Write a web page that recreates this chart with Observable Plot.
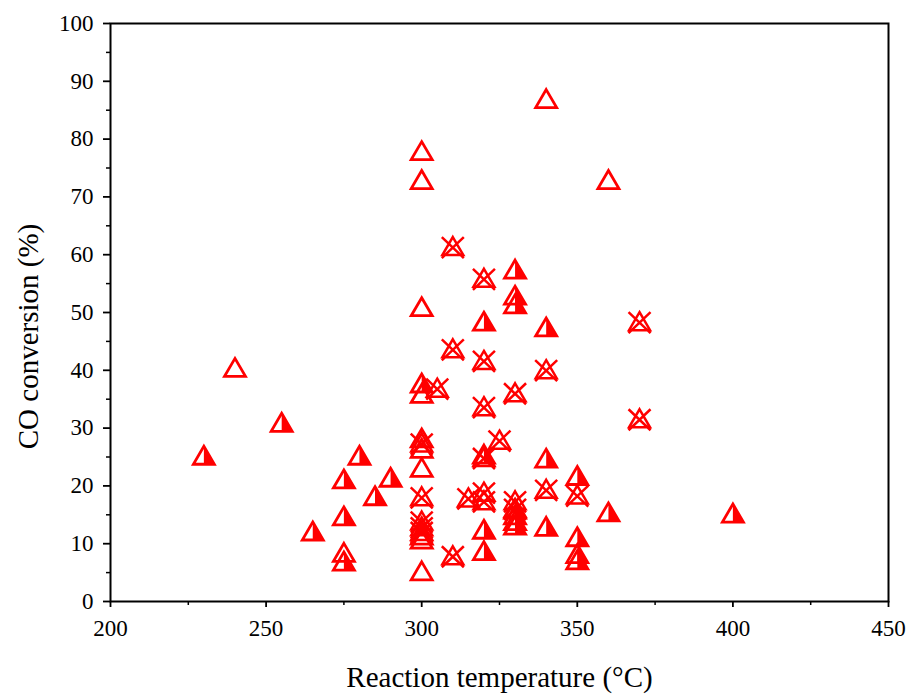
<!DOCTYPE html>
<html><head><meta charset="utf-8">
<script src="https://cdn.jsdelivr.net/npm/d3@7"></script>
<script src="https://cdn.jsdelivr.net/npm/@observablehq/plot@0.6"></script>
<style>body{margin:0;background:#fff}</style>
</head><body><div id="chart"></div>
<script>
// Open triangles
const openTemp = [240, 300, 300, 300, 340, 360, 300, 300, 300, 300, 300, 300, 300, 275];
const openConv = [40.5, 78, 73, 51, 87, 73, 36, 28.3, 26.5, 23.2, 11.5, 10.8, 5.3, 8.5];
// Half-filled triangles
const halfTemp = [230, 255, 265, 275, 275, 275, 280, 285, 290, 300, 320, 320, 320, 320, 330, 330, 330, 330, 330, 330, 330, 340, 340, 340, 350, 350, 350, 350, 360, 400];
const halfConv = [25.3, 31, 12.2, 21.2, 14.8, 7, 25.3, 18.3, 21.5, 37.8, 48.5, 25.5, 12.5, 8.8, 57.5, 53, 51.5, 16, 15, 14, 13.2, 47.5, 24.8, 13, 21.8, 11.2, 8.3, 7.2, 15.5, 15.3];
// Crossed triangles
const crossTemp = [305, 310, 310, 310, 315, 320, 320, 320, 320, 320, 320, 325, 330, 330, 330, 340, 340, 350, 370, 370, 300, 300, 300, 300, 300];
const crossConv = [37, 61.5, 43.8, 8, 18, 56, 41.8, 33.8, 25, 19, 17.5, 28, 36.2, 17.5, 16.2, 40.2, 19.5, 18.5, 48.5, 31.7, 27.5, 18.2, 14, 13, 12.2];

const xMajor = [200, 250, 300, 350, 400, 450];
const xMinor = [225, 275, 325, 375, 425];
const yMajor = [0, 10, 20, 30, 40, 50, 60, 70, 80, 90, 100];
const yMinor = [5, 15, 25, 35, 45, 55, 65, 75, 85, 95];

const toRows = (xs, ys) => xs.map((x, i) => ({x, y: ys[i]}));
const openData = toRows(openTemp, openConv);
const halfData = toRows(halfTemp, halfConv);
const crossData = toRows(crossTemp, crossConv);

const H = 9, W = 10.5;
const triSym = {draw(c) { c.moveTo(0, -H); c.lineTo(W, H); c.lineTo(-W, H); c.closePath(); }};
const halfSym = {draw(c) { c.moveTo(0, -H); c.lineTo(W, H); c.lineTo(0, H); c.closePath(); }};
const crossSym = {draw(c) {
  c.moveTo(0, -H); c.lineTo(W, H); c.lineTo(-W, H); c.closePath();
  c.moveTo(-11, -9); c.lineTo(11, 12);
  c.moveTo(11, -9); c.lineTo(-11, 12);
}};

const font = "'Liberation Serif', 'Times New Roman', serif";
const chart = Plot.plot({
  width: 908, height: 695,
  marginLeft: 110, marginRight: 20, marginTop: 23, marginBottom: 94,
  style: {fontFamily: font, fontSize: "23px", background: "#fff", color: "#000"},
  x: {domain: [200, 450]},
  y: {domain: [0, 100]},
  marks: [
    Plot.axisX(xMajor, {tickSize: 6, tickPadding: 12, fontSize: 23, label: null, strokeWidth: 1.8}),
    Plot.axisX(xMinor, {tickSize: 4, tickFormat: () => "", label: null, strokeWidth: 1.5}),
    Plot.axisY(yMajor, {tickSize: 7, tickPadding: 10, fontSize: 23, label: null, strokeWidth: 1.8}),
    Plot.axisY(yMinor, {tickSize: 4, tickFormat: () => "", label: null, strokeWidth: 1.5}),
    Plot.frame({stroke: "#000", strokeWidth: 2}),
    Plot.text(["Reaction temperature (°C)"], {frameAnchor: "bottom", dy: 76, fontSize: 29, fontFamily: font, lineAnchor: "middle"}),
    Plot.text(["CO conversion (%)"], {frameAnchor: "left", dx: -82, dy: 24, rotate: -90, textAnchor: "middle", fontSize: 29, fontFamily: font}),
    Plot.dot(openData, {x: "x", y: "y", symbol: triSym, r: 5, fill: "none", stroke: "#ff0000", strokeWidth: 2.8, strokeLinejoin: "miter"}),
    Plot.dot(halfData, {x: "x", y: "y", symbol: triSym, r: 5, fill: "none", stroke: "#ff0000", strokeWidth: 2.8, strokeLinejoin: "miter"}),
    Plot.dot(halfData, {x: "x", y: "y", symbol: halfSym, r: 5, fill: "#ff0000", stroke: "none"}),
    Plot.dot(crossData, {x: "x", y: "y", symbol: crossSym, r: 5, fill: "none", stroke: "#ff0000", strokeWidth: 2.5, strokeLinejoin: "miter"})
  ]
});
document.getElementById("chart").append(chart);
</script>
</body></html>
